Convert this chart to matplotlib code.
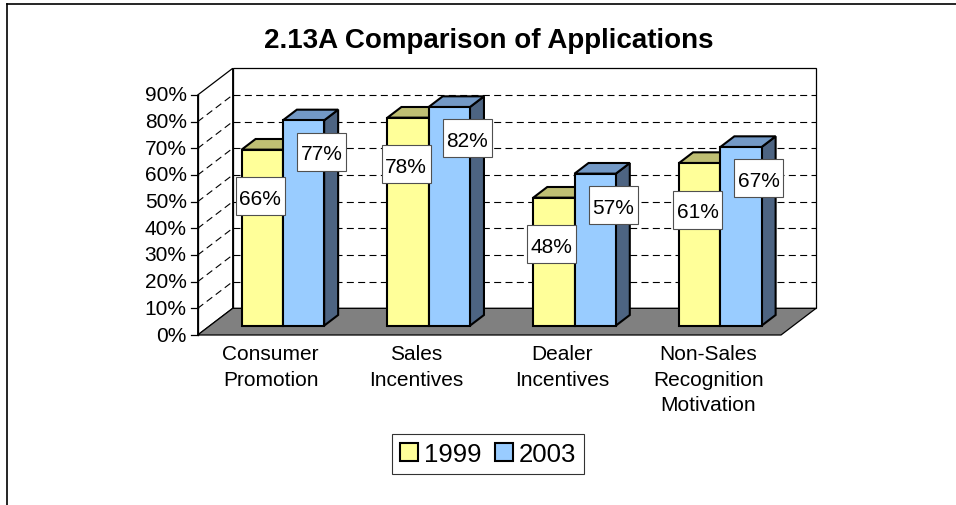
import matplotlib
matplotlib.use('agg')

from matplotlib import pyplot as plt
from matplotlib.patches import Polygon, Rectangle, Patch
from matplotlib.lines import Line2D

plt.rcParams['font.family'] = ['Liberation Sans', 'DejaVu Sans']

categories = ["Consumer\nPromotion", "Sales\nIncentives", "Dealer\nIncentives",
              "Non-Sales\nRecognition\nMotivation"]
series = ["1999", "2003"]
values_1999 = [66, 78, 48, 61]
values_2003 = [77, 82, 57, 67]
yticks = [0, 10, 20, 30, 40, 50, 60, 70, 80, 90]

# colours (front, top, side) per series
colors = {
    "1999": ("#FFFF99", "#BFBF73", "#9C9C5A"),
    "2003": ("#99CCFF", "#7399C6", "#4D6482"),
}

W, H = 956, 506
fig = plt.figure(figsize=(W / 100, H / 100), dpi=100)
ax = fig.add_axes([0, 0, 1, 1])

# pixel mapping of the front plane: x=0 at 197.7px, 1 category = 145.83px
# y=0 at 336px from top, 1% = 2.667px
x0px, y0px, ppx, ppy = 197.7, 336.0, 145.83, 2.6667
ax.set_xlim(-x0px / ppx, (W - x0px) / ppx)
ax.set_ylim(-(H - y0px) / ppy, y0px / ppy)
ax.axis('off')

n = len(categories)
ymax = yticks[-1]
DX, DY = 35 / ppx, 10.0  # depth of the floor
f0, fd = 0.35, 0.4       # bar front position and bar depth (fraction of floor depth)
BW = 0.283               # bar width in category units

# walls and floor
ax.add_patch(Polygon([(0, 0), (DX, DY), (DX, DY + ymax), (0, ymax)],
                     closed=True, fc='white', ec='black', lw=0.9, zorder=1))
ax.add_patch(Polygon([(DX, DY), (n + DX, DY), (n + DX, DY + ymax), (DX, DY + ymax)],
                     closed=True, fc='white', ec='black', lw=0.9, zorder=1))
ax.add_patch(Polygon([(0, 0), (n, 0), (n + DX, DY), (DX, DY)],
                     closed=True, fc='#808080', ec='black', lw=0.9, zorder=1))

for v in yticks[1:-1]:
    ax.plot([DX, n + DX], [v + DY, v + DY], color='black', lw=0.8,
            dashes=(6.3, 3.9), zorder=2)
    ax.plot([0, DX], [v, v + DY], color='black', lw=0.8, dashes=(6.3, 3.9), zorder=2)

# front value axis with ticks
ax.plot([0, 0], [0, ymax], color='black', lw=0.9, zorder=3)
tick = 7 / ppx
for v in yticks:
    ax.plot([-tick, 0], [v, v], color='black', lw=0.9, zorder=3)
    ax.text(-11 / ppx, v, f"{v}%", ha='right', va='center', fontsize=15)


def bar3d(xl, xr, base, top, cols):
    bdx, bdy = fd * DX, fd * DY
    front, topc, side = cols
    kw = dict(closed=True, ec='black', lw=1.5, joinstyle='miter', zorder=4)
    ax.add_patch(Polygon([(xr, base), (xr + bdx, base + bdy), (xr + bdx, top + bdy), (xr, top)],
                         fc=side, **kw))
    ax.add_patch(Polygon([(xl, top), (xr, top), (xr + bdx, top + bdy), (xl + bdx, top + bdy)],
                         fc=topc, **kw))
    ax.add_patch(Rectangle((xl, base), xr - xl, top - base, fc=front,
                           ec='black', lw=1.5, joinstyle='miter', zorder=4))


def value_label(x, y, txt):
    bw, bh = 49 / ppx, 38 / ppy
    ax.add_patch(Rectangle((x - bw / 2, y - bh / 2), bw, bh, fc='white',
                           ec='#505050', lw=0.8, zorder=5))
    ax.text(x, y, txt, ha='center', va='center_baseline', fontsize=15, zorder=6)


base = f0 * DY
for i in range(n):
    c = i + 0.5 + f0 * DX
    bar3d(c - BW, c, base, base + values_1999[i], colors["1999"])
    bar3d(c, c + BW, base, base + values_2003[i], colors["2003"])
    value_label(c - BW / 2 - 2 / ppx, values_1999[i] - 14, f"{values_1999[i]}%")
    value_label(c + BW / 2 + 18 / ppx, values_2003[i] - 8.3, f"{values_2003[i]}%")
    ax.text(i + 0.5, -3.3, categories[i], ha='center', va='top', fontsize=15,
            linespacing=1.45)

fig.text(488.5 / W, 1 - 41.5 / H, "2.13A Comparison of Applications", ha='center',
         va='center', fontsize=20, fontweight='bold')

handles = [Patch(fc=colors[s][0], ec='black', lw=1.5) for s in series]
leg = fig.legend(handles, series, loc='center', bbox_to_anchor=(488.3 / W, 51.1 / H),
                 ncol=2, fontsize=18.5, fancybox=False, edgecolor='black',
                 handlelength=0.7, handleheight=0.7, handletextpad=0.25,
                 columnspacing=0.5, borderpad=0.3, borderaxespad=0)
leg.get_frame().set_linewidth(0.8)

# outer frame (top and left edges visible)
fig.add_artist(Line2D([6.5 / W, 6.5 / W], [0, 1 - 5 / H], color='black', lw=1.2))
fig.add_artist(Line2D([6.5 / W, 1], [1 - 5 / H, 1 - 5 / H], color='black', lw=1.2))

plt.savefig('out.png', dpi=100)
